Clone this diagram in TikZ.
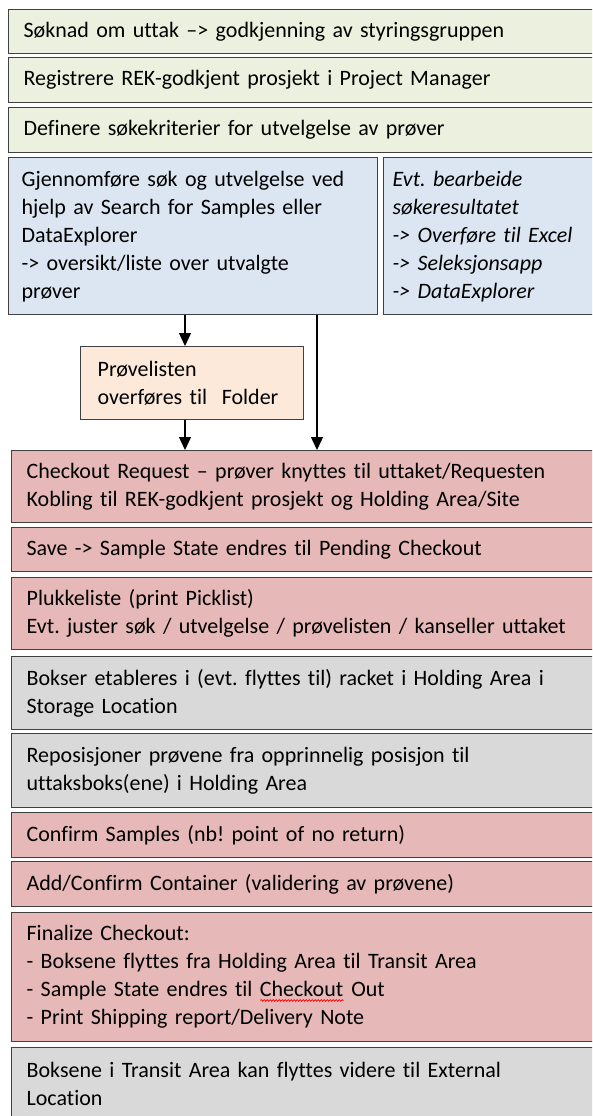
\documentclass[tikz,border=0pt]{standalone}
\usepackage{fontspec}
\setmainfont{Carlito}[Ligatures=NoCommon]
\usepackage{tikz}
\usetikzlibrary{arrows.meta,calc,decorations.pathmorphing}
\frenchspacing
\definecolor{boxline}{HTML}{404040}
\definecolor{greenfill}{HTML}{EBF1DE}
\definecolor{bluefill}{HTML}{DCE6F2}
\definecolor{peachfill}{HTML}{FDE9D9}
\definecolor{redfill}{HTML}{E6B9B8}
\definecolor{greyfill}{HTML}{D9D9D9}
\newlength\wavelen
\newcommand{\spellmark}[1]{\settowidth{\wavelen}{#1}\rlap{#1}\tikz[baseline=0pt]\draw[red,fill=none,line width=0.8pt,decorate,decoration={snake,amplitude=0.8pt,segment length=3pt}] (0pt,-3.5pt) -- (\wavelen,-3.5pt);}

\begin{document}
\begin{tikzpicture}[x=1pt,y=-1pt,
  box/.style={draw=boxline,line width=1.3pt,anchor=north west,align=left,
    inner xsep=15pt,inner ysep=0pt,font=\fontsize{22}{28}\selectfont},
  wide/.style={box,text width=562pt},
  low/.style={box,text width=559pt},
  arr/.style={draw=black,line width=1.3pt,-{Triangle[length=13pt,width=12pt]}}]
\clip (0,0) rectangle (592,1116);
\fill[white] (0,0) rectangle (592,1116);

% top steps
\node[wide,fill=greenfill,minimum height=44pt] (soknad) at (8,9) {Søknad om uttak –> godkjenning av styringsgruppen};
\node[wide,fill=greenfill,minimum height=45pt] (registrere) at (8,57) {Registrere REK-godkjent prosjekt i Project Manager};
\node[wide,fill=greenfill,minimum height=45pt] (definere) at (8,107) {Definere søkekriterier for utvelgelse av prøver};

% search
\node[box,fill=bluefill,text width=343pt,inner xsep=13pt,minimum height=157pt] (sok) at (8,157)
  {Gjennomføre søk og utvelgelse ved\\hjelp av Search for Samples eller\\DataExplorer\\-> oversikt/liste over utvalgte\\prøver};
\node[box,fill=bluefill,text width=199pt,inner xsep=9pt,minimum height=157pt,font=\fontsize{22}{28}\selectfont\itshape] (bearbeide) at (383,157)
  {Evt. bearbeide\\søkeresultatet\\-> Overføre til Excel\\-> Seleksjonsapp\\-> DataExplorer};
\node[box,fill=peachfill,text width=189pt,inner xsep=17pt,minimum height=73pt] (folder) at (80,346)
  {Prøvelisten\\overføres til~ Folder};

% checkout
\node[low,fill=redfill,minimum height=72pt] (request) at (11,450)
  {Checkout Request – prøver knyttes til uttaket/Requesten\\Kobling til REK-godkjent prosjekt og Holding Area/Site};
\node[low,fill=redfill,minimum height=44pt] (save) at (11,527) {Save -> Sample State endres til Pending Checkout};
\node[low,fill=redfill,minimum height=72pt] (pluk) at (11,577)
  {Plukkeliste (print Picklist)\\Evt. juster søk / utvelgelse / prøvelisten / kanseller uttaket};
\node[low,fill=greyfill,minimum height=73pt] (bokser) at (11,656)
  {Bokser etableres i (evt. flyttes til) racket i Holding Area i\\Storage Location};
\node[low,fill=greyfill,minimum height=74pt] (repos) at (11,733)
  {Reposisjoner prøvene fra opprinnelig posisjon til\\uttaksboks(ene) i Holding Area};
\node[low,fill=redfill,minimum height=45pt] (confirm) at (11,812) {Confirm Samples (nb! point of no return)};
\node[low,fill=redfill,minimum height=45pt] (container) at (11,861) {Add/Confirm Container (validering av prøvene)};
\node[low,fill=redfill,minimum height=129pt] (finalize) at (11,912)
  {Finalize Checkout:\\- Boksene flyttes fra Holding Area til Transit Area\\- Sample State endres til \spellmark{Checkout} Out\\- Print Shipping report/Delivery Note};
\node[low,fill=greyfill,minimum height=73pt] (transit) at (11,1047)
  {Boksene i Transit Area kan flyttes videre til External\\Location};

% connectors
\coordinate (left line) at (185,0);
\coordinate (right line) at (317,0);
\draw[arr] (sok.south -| left line) -- (folder.north -| left line);
\draw[arr] (folder.south -| left line) -- (request.north -| left line);
\draw[arr] (sok.south -| right line) -- (request.north -| right line);
\end{tikzpicture}
\end{document}
